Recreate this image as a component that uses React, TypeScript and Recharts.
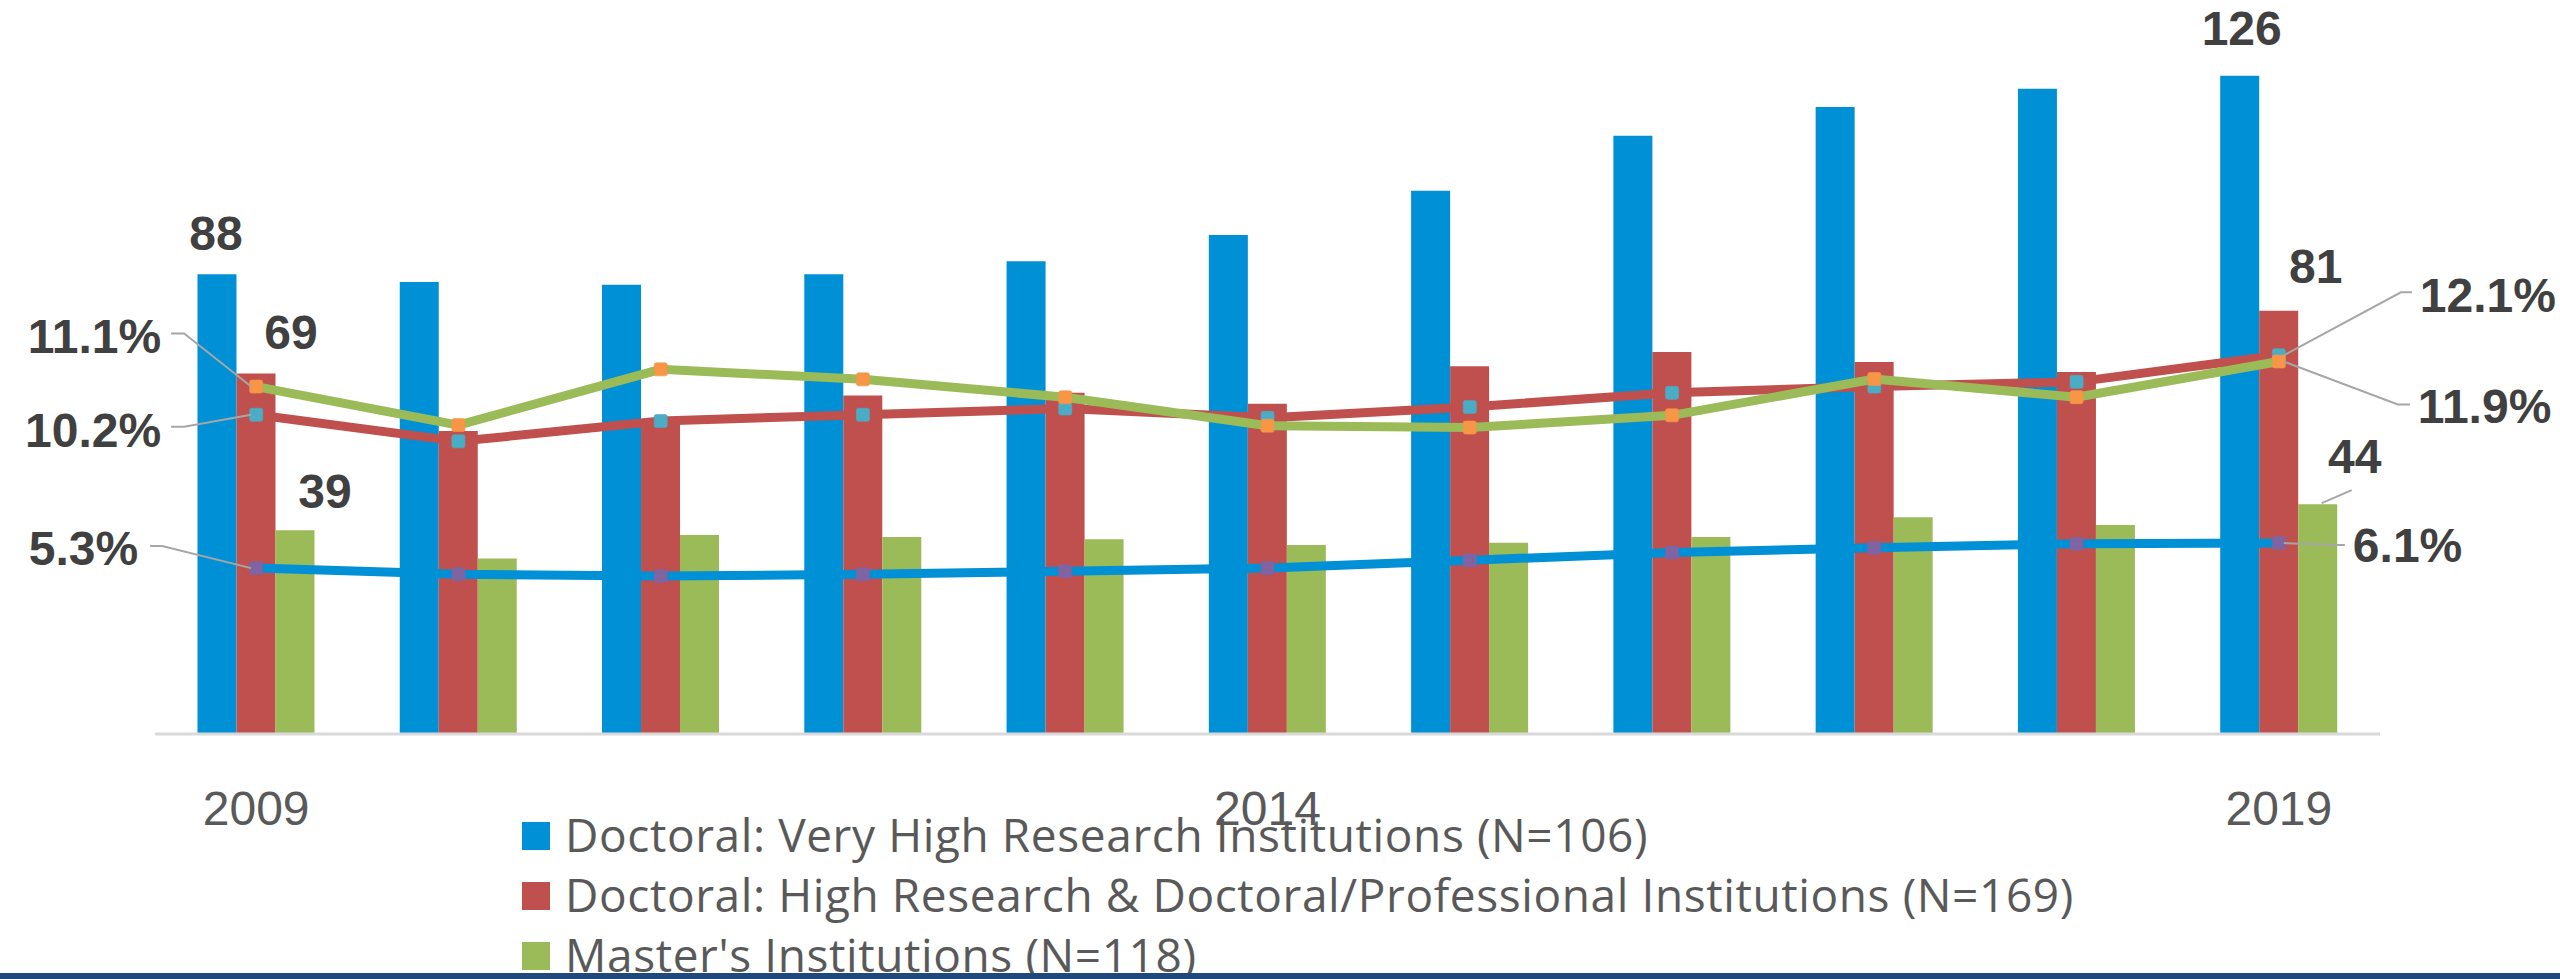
import React from 'react';
import { ComposedChart, Bar, Line, XAxis, YAxis, Legend, LabelList } from 'recharts';

// ---------- data ----------
const years = ['2009', '2010', '2011', '2012', '2013', '2014', '2015', '2016', '2017', '2018', '2019'];
const veryHighCounts = [88, 86.5, 86, 88, 90.5, 95.5, 104, 114.5, 120, 123.5, 126];
const highCounts = [69, 58, 60, 64.8, 65.3, 63.2, 70.4, 73.1, 71.2, 69.3, 81];
const mastersCounts = [39, 33.6, 38.1, 37.7, 37.3, 36.2, 36.6, 37.7, 41.5, 40, 44];
const veryHighPct = [5.3, 5.1, 5.05, 5.1, 5.2, 5.3, 5.55, 5.8, 5.95, 6.08, 6.1];
const highPct = [10.2, 9.35, 10.0, 10.2, 10.4, 10.1, 10.45, 10.9, 11.1, 11.25, 12.1];
const mastersPct = [11.1, 9.87, 11.65, 11.33, 10.76, 9.85, 9.79, 10.18, 11.34, 10.76, 11.9];
const seriesNames = [
  'Doctoral: Very High Research Institutions (N=106)',
  'Doctoral: High Research & Doctoral/Professional Institutions (N=169)',
  "Master's Institutions (N=118)",
];

const data = years.map((year, i) => ({
  year,
  vh: veryHighCounts[i],
  hi: highCounts[i],
  ms: mastersCounts[i],
  vhPct: veryHighPct[i],
  hiPct: highPct[i],
  msPct: mastersPct[i],
}));

// ---------- styles ----------
const BLUE = '#0090D5';
const RED = '#C0504D';
const GREEN = '#9BBB59';
const PURPLE = '#8064A2';
const TEAL = '#4BACC6';
const ORANGE = '#F79646';
const LABEL_COLOR = '#404040';
const LEADER = '#A6A6A6';
const LABEL_FONT = "'Liberation Sans', Arial, sans-serif";
const LAST = years.length - 1;

const getBox = (props: any) => {
  const vb = props.viewBox || {};
  return {
    x: Number(vb.x ?? props.x),
    y: Number(vb.y ?? props.y),
    width: Number(vb.width ?? props.width ?? 0),
    height: Number(vb.height ?? props.height ?? 0),
  };
};

type BarLabelCfg = { dx: number; dy: number; leader?: boolean };
const makeBarLabel = (first: BarLabelCfg, last: BarLabelCfg) => (props: any) => {
  const { index, value } = props;
  if (index !== 0 && index !== LAST) return null;
  const b = getBox(props);
  const o = index === 0 ? first : last;
  const cx = b.x + b.width / 2;
  const top = b.height < 0 ? b.y + b.height : b.y;
  return (
    <g>
      {o.leader ? (
        <path d={`M${cx + 4},${top - 1} L${cx + 34},${top - 14}`} stroke={LEADER} strokeWidth={2} fill="none" />
      ) : null}
      <text
        x={cx + o.dx}
        y={top + o.dy}
        textAnchor="middle"
        fontFamily={LABEL_FONT}
        fontWeight="bold"
        fontSize={48}
        fill={LABEL_COLOR}
      >
        {value}
      </text>
    </g>
  );
};

type PctCfg = { side: 'left' | 'right'; diagX: number; lineY: number; endX: number; textX: number; baseY: number };
const makePctLabel = (first: PctCfg, last: PctCfg) => (props: any) => {
  const { index, value } = props;
  if (index !== 0 && index !== LAST) return null;
  const b = getBox(props);
  const o = index === 0 ? first : last;
  const sgn = o.side === 'left' ? -1 : 1;
  const x = b.x;
  const y = b.y;
  const d = `M${x + sgn * 5},${y} L${x + sgn * o.diagX},${y + o.lineY} L${x + sgn * o.endX},${y + o.lineY}`;
  return (
    <g>
      <path d={d} stroke={LEADER} strokeWidth={2} fill="none" />
      <text
        x={x + sgn * o.textX}
        y={y + o.baseY}
        textAnchor={o.side === 'left' ? 'end' : 'start'}
        fontFamily={LABEL_FONT}
        fontWeight="bold"
        fontSize={48}
        fill={LABEL_COLOR}
      >
        {`${Number(value).toFixed(1)}%`}
      </text>
    </g>
  );
};

const makeSquareDot = (color: string) => (props: any) => {
  const { cx, cy, index } = props;
  if (cx == null || cy == null) return <g key={`d-${index}`} />;
  return (
    <rect
      key={`d-${index}`}
      x={cx - 6.5}
      y={cy - 6.5}
      width={13}
      height={13}
      rx={2}
      fill={color}
      stroke={color}
      strokeOpacity={0.6}
      strokeWidth={1}
    />
  );
};

const YearTick = (props: any) => {
  const { x, y, payload } = props;
  return (
    <text x={x} y={Number(y) + 91} textAnchor="middle" fontFamily={LABEL_FONT} fontSize={48} fill="#595959">
      {payload.value}
    </text>
  );
};

const legendColors = [BLUE, RED, GREEN];
const LegendContent = () => (
  <div style={{ position: 'relative', width: 1700, height: 180 }}>
    {seriesNames.map((name, i) => (
      <div key={name} style={{ position: 'absolute', left: 0, top: i * 60, height: 60, whiteSpace: 'nowrap' }}>
        <span
          style={{
            position: 'absolute',
            left: 0,
            top: 18,
            width: 28,
            height: 28,
            background: legendColors[i],
          }}
        />
        <span
          style={{
            position: 'absolute',
            left: 43,
            top: 0,
            lineHeight: '60px',
            fontFamily: "'Open Sans', sans-serif",
            fontSize: 46,
            letterSpacing: '0.6px',
            color: '#595959',
          }}
        >
          {name}
        </span>
      </div>
    ))}
  </div>
);

export default function App() {
  return (
    <div style={{ position: 'absolute', left: 0, top: 0, width: 2560, height: 979, background: '#ffffff', overflow: 'hidden' }}>
      <ComposedChart
        width={2560}
        height={979}
        data={data}
        margin={{ top: 0, right: 180, left: 155, bottom: 185 }}
        barCategoryGap="21%"
        barGap={0}
      >
        <XAxis
          dataKey="year"
          height={60}
          axisLine={{ stroke: '#D9D9D9', strokeWidth: 3 }}
          tickLine={false}
          tickSize={0}
          tickMargin={0}
          interval={4}
          tick={(p: any) => <YearTick {...p} />}
        />
        <YAxis yAxisId="left" domain={[0, 140.5]} hide />
        <YAxis yAxisId="right" orientation="right" domain={[0, 23.45]} hide />
        <Legend
          layout="vertical"
          align="center"
          verticalAlign="middle"
          content={() => <LegendContent />}
          wrapperStyle={{ position: 'absolute', left: 522, top: 804, width: 1700, height: 180, bottom: 'auto', right: 'auto' }}
        />
        <Bar yAxisId="left" dataKey="vh" name={seriesNames[0]} fill={BLUE} isAnimationActive={false}>
          <LabelList dataKey="vh" content={makeBarLabel({ dx: -1, dy: -24 }, { dx: 2, dy: -31 })} />
        </Bar>
        <Bar yAxisId="left" dataKey="hi" name={seriesNames[1]} fill={RED} isAnimationActive={false}>
          <LabelList dataKey="hi" content={makeBarLabel({ dx: 35, dy: -25 }, { dx: 37, dy: -28 })} />
        </Bar>
        <Bar yAxisId="left" dataKey="ms" name={seriesNames[2]} fill={GREEN} isAnimationActive={false}>
          <LabelList dataKey="ms" content={makeBarLabel({ dx: 30, dy: -22 }, { dx: 37, dy: -31, leader: true })} />
        </Bar>
        <Line
          yAxisId="right"
          type="linear"
          dataKey="vhPct"
          stroke={BLUE}
          strokeWidth={9}
          dot={makeSquareDot(PURPLE)}
          activeDot={false}
          isAnimationActive={false}
          legendType="none"
        >
          <LabelList
            dataKey="vhPct"
            content={makePctLabel(
              { side: 'left', diagX: 94, lineY: -22, endX: 106, textX: 118, baseY: -3 },
              { side: 'right', diagX: 60, lineY: 2, endX: 66, textX: 74, baseY: 19 }
            )}
          />
        </Line>
        <Line
          yAxisId="right"
          type="linear"
          dataKey="hiPct"
          stroke={RED}
          strokeWidth={9}
          dot={makeSquareDot(TEAL)}
          activeDot={false}
          isAnimationActive={false}
          legendType="none"
        >
          <LabelList
            dataKey="hiPct"
            content={makePctLabel(
              { side: 'left', diagX: 72, lineY: 12, endX: 85, textX: 95, baseY: 32 },
              { side: 'right', diagX: 122, lineY: -63, endX: 133, textX: 141, baseY: -43 }
            )}
          />
        </Line>
        <Line
          yAxisId="right"
          type="linear"
          dataKey="msPct"
          stroke={GREEN}
          strokeWidth={9}
          dot={makeSquareDot(ORANGE)}
          activeDot={false}
          isAnimationActive={false}
          legendType="none"
        >
          <LabelList
            dataKey="msPct"
            content={makePctLabel(
              { side: 'left', diagX: 72, lineY: -53, endX: 85, textX: 95, baseY: -34 },
              { side: 'right', diagX: 119, lineY: 43, endX: 131, textX: 139, baseY: 61 }
            )}
          />
        </Line>
      </ComposedChart>
      <div style={{ position: 'absolute', left: 0, top: 973, width: 2560, height: 6, background: '#1F497D' }} />
    </div>
  );
}
